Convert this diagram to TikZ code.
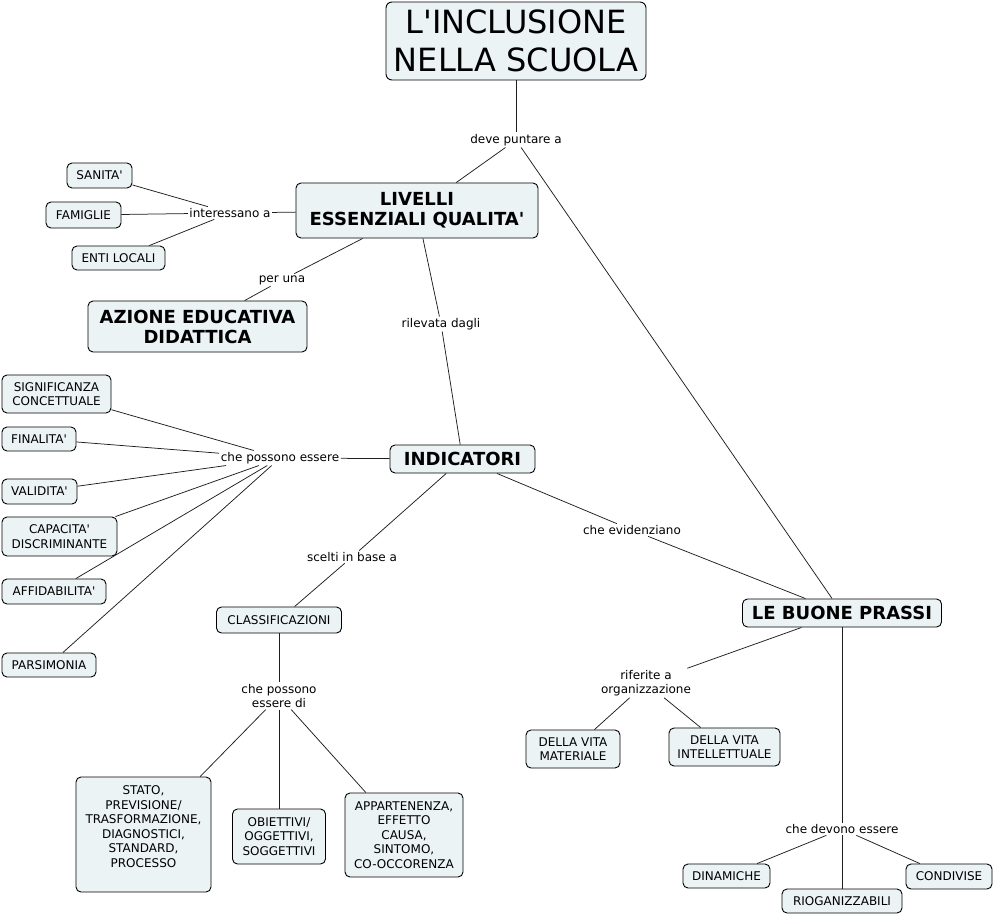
\documentclass[tikz,border=0pt]{standalone}
\usepackage{fontspec}
\setmainfont{DejaVu Sans}[Ligatures=TeXOff]
\usetikzlibrary{backgrounds}
\definecolor{cfill}{RGB}{236,243,245}
\definecolor{lnk}{RGB}{30,30,30}
\begin{document}
\begin{tikzpicture}[x=1pt,y=-1pt,
  concept/.style={draw=black, line width=0.9pt, fill=cfill, rounded corners=5pt,
    align=center, inner sep=0pt, font=\fontsize{12}{14.5}\selectfont},
  bigc/.style={concept, font=\fontsize{18}{20}\selectfont\bfseries},
  lbl/.style={inner sep=1.5pt, align=center, font=\fontsize{12}{14.5}\selectfont},
  conn/.style={draw=lnk, line width=0.75pt}]
\useasboundingbox (0,0) rectangle (995,915);

% concepts
\node[concept, font=\fontsize{32}{38}\selectfont, rounded corners=6pt,
  minimum width=260pt, minimum height=78pt] (title) at (516,41) {L'INCLUSIONE\\NELLA SCUOLA};
\node[bigc, minimum width=242pt, minimum height=55pt] (livelli) at (417,210.5) {LIVELLI\\ESSENZIALI QUALITA'};
\node[concept, minimum width=65pt, minimum height=25pt] (sanita) at (99.5,175.5) {SANITA'};
\node[concept, minimum width=75pt, minimum height=26pt] (famiglie) at (83.5,215) {FAMIGLIE};
\node[concept, minimum width=93pt, minimum height=24pt] (enti) at (118.5,258) {ENTI LOCALI};
\node[bigc, minimum width=219pt, minimum height=51pt] (azione) at (197.5,326.5) {AZIONE EDUCATIVA\\DIDATTICA};
\node[bigc, minimum width=145pt, minimum height=28pt] (indicatori) at (462.5,459) {INDICATORI};
\node[concept, minimum width=109pt, minimum height=38pt] (signif) at (56.5,394) {SIGNIFICANZA\\CONCETTUALE};
\node[concept, minimum width=74pt, minimum height=24pt] (finalita) at (39,439) {FINALITA'};
\node[concept, minimum width=75pt, minimum height=25pt] (validita) at (39.5,491.5) {VALIDITA'};
\node[concept, minimum width=115pt, minimum height=39pt] (capacita) at (59.5,536.5) {CAPACITA'\\DISCRIMINANTE};
\node[concept, minimum width=104pt, minimum height=25pt] (affid) at (54,591.5) {AFFIDABILITA'};
\node[concept, minimum width=94pt, minimum height=24pt] (parsim) at (49,665) {PARSIMONIA};
\node[concept, minimum width=125pt, minimum height=26pt] (classif) at (279,620) {CLASSIFICAZIONI};
\node[concept, minimum width=135pt, minimum height=115pt, text depth=16pt] (stato) at (143.5,834.5)
  {STATO,\\PREVISIONE/\\TRASFORMAZIONE,\\DIAGNOSTICI,\\STANDARD,\\PROCESSO};
\node[concept, minimum width=93pt, minimum height=55pt] (obiettivi) at (279,836.5) {OBIETTIVI/\\OGGETTIVI,\\SOGGETTIVI};
\node[concept, minimum width=118pt, minimum height=84pt] (appart) at (404,835) {APPARTENENZA,\\EFFETTO\\CAUSA,\\SINTOMO,\\CO-OCCORENZA};
\node[bigc, minimum width=199pt, minimum height=28pt] (buone) at (842,613) {LE BUONE PRASSI};
\node[concept, minimum width=94pt, minimum height=38pt] (materiale) at (573,749) {DELLA VITA\\MATERIALE};
\node[concept, minimum width=111pt, minimum height=38pt] (intell) at (724.5,747) {DELLA VITA\\INTELLETTUALE};
\node[concept, minimum width=87pt, minimum height=24pt] (dinamiche) at (726.5,876) {DINAMICHE};
\node[concept, minimum width=120pt, minimum height=24pt] (riog) at (842,901) {RIOGANIZZABILI};
\node[concept, minimum width=86pt, minimum height=25pt] (condivise) at (949,876.5) {CONDIVISE};

% linking phrases
\node[lbl] (deve) at (516,140) {deve puntare a};
\node[lbl] (interessano) at (230,213) {interessano a};
\node[lbl] (perun) at (282,280) {per una};
\node[lbl] (rilevata) at (441,324) {rilevata dagli};
\node[lbl] (possono) at (280,458) {che possono essere};
\node[lbl] (scelti) at (352,557) {scelti in base a};
\node[lbl] (possonodi) at (279,696) {che possono\\essere di};
\node[lbl] (evidenziano) at (632,530) {che evidenziano};
\node[lbl] (riferite) at (646,683) {riferite a\\organizzazione};
\node[lbl] (devono) at (842,829) {che devono essere};

% connectors
\begin{scope}[conn]
\draw (title) -- (deve);
\draw (deve) -- (livelli);
\draw (deve) -- (buone);
\draw (livelli) -- (interessano);
\draw (interessano) -- (sanita);
\draw (interessano) -- (famiglie);
\draw (interessano) -- (enti);
\draw (livelli) -- (perun);
\draw (perun) -- (azione);
\draw (livelli) -- (rilevata);
\draw (rilevata) -- (indicatori);
\draw (indicatori) -- (possono);
\draw (possono) -- (signif);
\draw (possono) -- (finalita);
\draw (possono) -- (validita);
\draw (possono) -- (capacita);
\draw (possono) -- (affid);
\draw (possono) -- (parsim);
\draw (indicatori) -- (scelti);
\draw (scelti) -- (classif);
\draw (classif) -- (possonodi);
\draw (possonodi) -- (stato);
\draw (possonodi) -- (obiettivi);
\draw (possonodi) -- (appart);
\draw (indicatori) -- (evidenziano);
\draw (evidenziano) -- (buone);
\draw (buone) -- (riferite);
\draw (riferite) -- (materiale);
\draw (riferite) -- (intell);
\draw (buone) -- (devono);
\draw (devono) -- (dinamiche);
\draw (devono) -- (riog);
\draw (devono) -- (condivise);
\end{scope}
\end{tikzpicture}
\end{document}
